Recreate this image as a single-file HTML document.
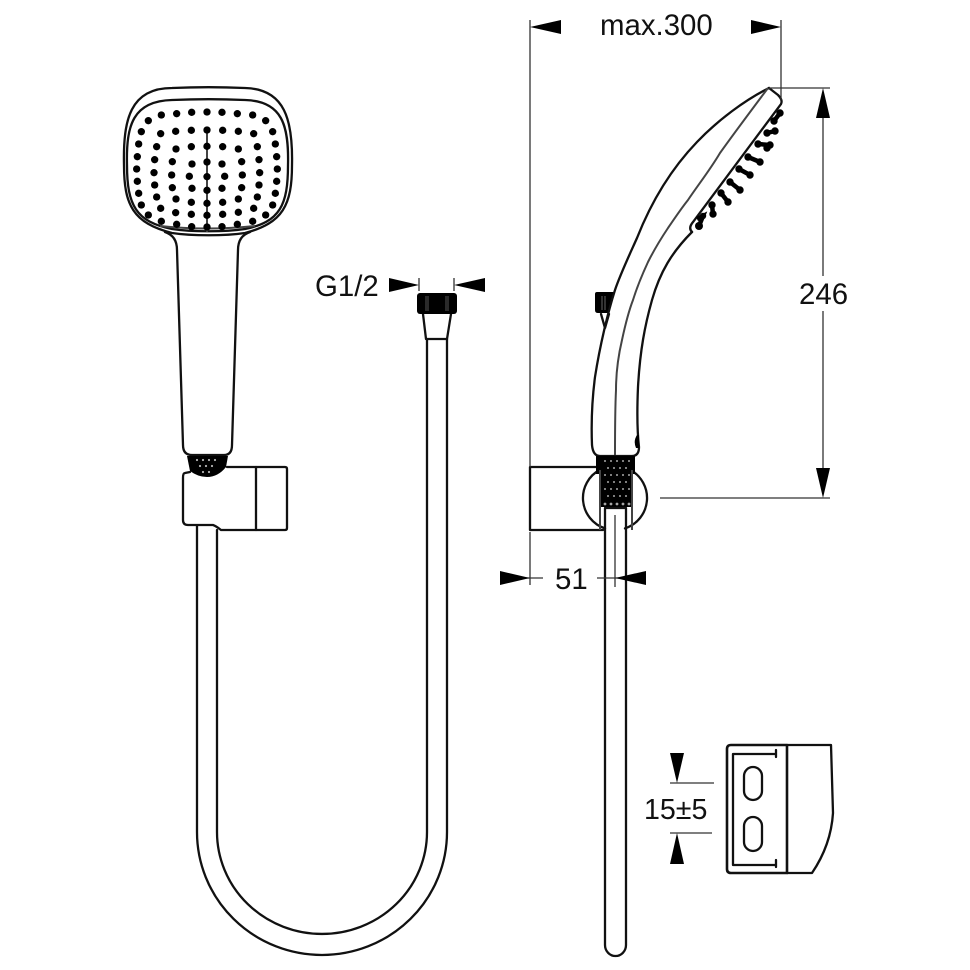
<!DOCTYPE html>
<html>
<head>
<meta charset="utf-8">
<style>
html,body{margin:0;padding:0;background:#fff;}
svg{display:block;filter:blur(.35px);}
text{font-family:"Liberation Sans",sans-serif;font-size:29.4px;fill:#111;}
.l{fill:none;stroke:#111;stroke-width:2.3;stroke-linejoin:round;stroke-linecap:round;}
.t{fill:none;stroke:#333;stroke-width:1.3;}
.g{fill:none;stroke:#444;stroke-width:2;}
.a{fill:#000;stroke:none;}
</style>
</head>
<body>
<svg width="970" height="970" viewBox="0 0 970 970" xmlns="http://www.w3.org/2000/svg">
<rect width="970" height="970" fill="#fff"/>

<!-- FRONT HEAD -->
<path class="l" d="M124 165C123 120 130 88 172 88C195 87 222 87 245 88C285 89 293 120 292 165C292 205 283 223 245 233C225 236 192 236 172 233C133 223 124 205 124 165Z"/>
<path class="l" d="M127 165C126 125 133 101 172 100C195 99 222 99 245 100C282 101 289 125 288 165C288 205 280 222 245 229C225 232 192 232 172 229C136 222 127 205 127 165Z"/>
<path class="g" d="M207 130V232M160 226Q207 231 255 226"/>
<g transform="translate(110,80) scale(.33333)" fill="#000">
<circle cx="115" cy="122" r="11"/><circle cx="154" cy="105" r="11"/><circle cx="200" cy="101" r="11"/><circle cx="245" cy="97" r="11"/><circle cx="291" cy="96" r="11"/><circle cx="336" cy="97" r="11"/><circle cx="382" cy="101" r="11"/><circle cx="428" cy="105" r="11"/><circle cx="467" cy="122" r="11"/>
<circle cx="94" cy="155" r="11"/><circle cx="152" cy="161" r="11"/><circle cx="197" cy="154" r="11"/><circle cx="244" cy="151" r="11"/><circle cx="291" cy="150" r="11"/><circle cx="338" cy="151" r="11"/><circle cx="385" cy="154" r="11"/><circle cx="431" cy="161" r="11"/><circle cx="488" cy="155" r="11"/>
<circle cx="86" cy="192" r="11"/><circle cx="140" cy="200" r="11"/><circle cx="198" cy="207" r="11"/><circle cx="244" cy="200" r="11"/><circle cx="291" cy="199" r="11"/><circle cx="338" cy="200" r="11"/><circle cx="385" cy="207" r="11"/><circle cx="442" cy="200" r="11"/><circle cx="496" cy="192" r="11"/>
<circle cx="82" cy="230" r="11"/><circle cx="134" cy="239" r="11"/><circle cx="187" cy="245" r="11"/><circle cx="246" cy="252" r="11"/><circle cx="291" cy="246" r="11"/><circle cx="336" cy="252" r="11"/><circle cx="395" cy="245" r="11"/><circle cx="447" cy="239" r="11"/><circle cx="500" cy="230" r="11"/>
<circle cx="80" cy="267" r="11"/><circle cx="132" cy="278" r="11"/><circle cx="185" cy="285" r="11"/><circle cx="238" cy="289" r="11"/><circle cx="291" cy="290" r="11"/><circle cx="344" cy="289" r="11"/><circle cx="397" cy="285" r="11"/><circle cx="449" cy="278" r="11"/><circle cx="502" cy="267" r="11"/>
<circle cx="82" cy="304" r="11"/><circle cx="134" cy="315" r="11"/><circle cx="187" cy="323" r="11"/><circle cx="246" cy="325" r="11"/><circle cx="291" cy="331" r="11"/><circle cx="336" cy="325" r="11"/><circle cx="395" cy="323" r="11"/><circle cx="447" cy="315" r="11"/><circle cx="500" cy="304" r="11"/>
<circle cx="86" cy="340" r="11"/><circle cx="140" cy="351" r="11"/><circle cx="198" cy="357" r="11"/><circle cx="244" cy="367" r="11"/><circle cx="291" cy="370" r="11"/><circle cx="338" cy="367" r="11"/><circle cx="385" cy="357" r="11"/><circle cx="442" cy="351" r="11"/><circle cx="496" cy="340" r="11"/>
<circle cx="94" cy="375" r="11"/><circle cx="152" cy="385" r="11"/><circle cx="197" cy="398" r="11"/><circle cx="244" cy="403" r="11"/><circle cx="291" cy="406" r="11"/><circle cx="338" cy="403" r="11"/><circle cx="385" cy="397" r="11"/><circle cx="431" cy="385" r="11"/><circle cx="488" cy="375" r="11"/>
<circle cx="115" cy="405" r="11"/><circle cx="154" cy="424" r="11"/><circle cx="200" cy="433" r="11"/><circle cx="245" cy="440" r="11"/><circle cx="291" cy="441" r="11"/><circle cx="336" cy="440" r="11"/><circle cx="382" cy="433" r="11"/><circle cx="428" cy="424" r="11"/><circle cx="467" cy="405" r="11"/>
</g>

<!-- FRONT HANDLE -->
<path class="l" d="M165 232Q177 236 177 250L183 445Q183 455 192 455H224Q232 455 232 445L238 250Q238 236 250 232"/>
<path d="M187 456H228L226 467Q218 477 207 477Q198 477 190 471Z" fill="#000"/>
<g fill="#fff" opacity=".7"><circle cx="197" cy="460" r="1.1"/><circle cx="203" cy="460" r="1.1"/><circle cx="209" cy="460" r="1.1"/><circle cx="215" cy="460" r="1.1"/><circle cx="200" cy="466" r="1.1"/><circle cx="206" cy="466" r="1.1"/><circle cx="212" cy="466" r="1.1"/><circle cx="203" cy="472" r="1.1"/><circle cx="209" cy="472" r="1.1"/></g>

<!-- FRONT BRACKET -->
<path class="l" d="M190 472L185 473Q183 473 183 478V520Q183 525 188 525H213Q216 526 221 530H285Q287 530 287 528V469Q287 467 285 467H227"/>
<path class="l" d="M256 467V530"/>

<!-- HOSE -->
<path class="l" d="M197 526V832A125 123 0 0 0 447 832V339"/>
<path class="l" d="M217 530V832A105 102 0 0 0 427 832V339"/>
<path class="l" d="M426 339H447M423 314L426 339M451 314L447 339"/>
<rect x="417" y="293" width="40" height="21" rx="3" fill="#000"/>
<path d="M426 296V311M428 296V311M446 296V311M448 296V311" stroke="#555" stroke-width="1"/>

<!-- G1/2 -->
<text x="315" y="296">G1/2</text>
<path class="a" d="M389 278V292L419 285Z"/>
<path class="a" d="M485 278V292L454 285Z"/>
<path class="t" d="M419 278V291M454 278V291"/>

<!-- SIDE VIEW BODY -->
<path d="M595 294Q595 292 597 292H615L608 313H598Q595 313 595 310Z" fill="#000"/>
<path d="M602 296V310M605 296V310" stroke="#666" stroke-width="1"/>
<path class="l" d="M601 314L605 328M609 314L605 328"/>
<path class="l" d="M769 88C745 100 718 120 697 142C672 168 652 200 637 238C628 258 620 275 615 290C608 312 600 345 595 377C592 400 591 420 592 445Q593 456 600 456H632Q639 456 639 447C637 430 637 410 638 387C640 350 645 325 652 300C660 272 672 252 692 232"/>
<path class="l" d="M769 88L778 95Q783 100 781 104L693 222Q688 228 692 232"/>
<path class="g" d="M768 88C750 112 735 132 720 153C710 170 698 185 688 200C680 210 675 218 668 228C660 240 654 250 648 262C642 275 637 287 633 300C628 313 625 326 622 340C618 357 616 373 616 390C615 410 615 430 615 455"/>
<path d="M637 435Q633 441 636 448H639V435Z" fill="#000"/>

<!-- SIDE HEAD NOZZLES -->
<g fill="#000">
<circle cx="780" cy="113" r="3.7"/><circle cx="774" cy="121" r="3.7"/><circle cx="775" cy="131" r="3.7"/><circle cx="767" cy="133" r="3.7"/><circle cx="770" cy="145" r="3.7"/><circle cx="758" cy="144" r="3.7"/><circle cx="767" cy="148" r="3.7"/><circle cx="760" cy="162" r="3.7"/><circle cx="748" cy="157" r="3.7"/><circle cx="750" cy="175" r="3.7"/><circle cx="739" cy="169" r="3.7"/><circle cx="740" cy="190" r="3.7"/><circle cx="730" cy="182" r="3.7"/><circle cx="728" cy="202" r="3.7"/><circle cx="721" cy="193" r="3.7"/><circle cx="713" cy="214" r="3.7"/><circle cx="712" cy="205" r="3.7"/><circle cx="699" cy="226" r="4"/><circle cx="703" cy="216" r="3.2"/>
</g>
<path d="M780 113L774 121M775 131L767 133M770 145L758 144M760 162L748 157M750 175L739 169M740 190L730 182M728 202L721 193M713 214L712 205M699 226L703 216L697 219" stroke="#000" stroke-width="4.5" fill="none"/>

<!-- SIDE BRACKET -->
<path class="l" d="M596 467H530V530H603"/>
<path class="l" d="M600 469.700A32 32 0 0 0 605 528.400M630 469.700A32 32 0 0 1 625 528.400"/>
<rect x="596" y="456" width="39" height="18" fill="#000"/>
<rect x="600" y="470" width="32" height="37" fill="#000"/>
<g fill="#fff" opacity=".65">
<circle cx="605" cy="461" r="1"/><circle cx="611" cy="461" r="1"/><circle cx="617" cy="461" r="1"/><circle cx="623" cy="461" r="1"/><circle cx="629" cy="461" r="1"/>
<circle cx="608" cy="468" r="1"/><circle cx="614" cy="468" r="1"/><circle cx="620" cy="468" r="1"/><circle cx="626" cy="468" r="1"/>
<circle cx="605" cy="475" r="1"/><circle cx="611" cy="475" r="1"/><circle cx="617" cy="475" r="1"/><circle cx="623" cy="475" r="1"/><circle cx="629" cy="475" r="1"/>
<circle cx="608" cy="482" r="1"/><circle cx="614" cy="482" r="1"/><circle cx="620" cy="482" r="1"/><circle cx="626" cy="482" r="1"/>
<circle cx="605" cy="489" r="1"/><circle cx="611" cy="489" r="1"/><circle cx="617" cy="489" r="1"/><circle cx="623" cy="489" r="1"/><circle cx="629" cy="489" r="1"/>
<circle cx="608" cy="496" r="1"/><circle cx="614" cy="496" r="1"/><circle cx="620" cy="496" r="1"/><circle cx="626" cy="496" r="1"/>
<circle cx="605" cy="504" r="1.4"/><circle cx="611" cy="504" r="1.4"/><circle cx="617" cy="504" r="1.4"/><circle cx="623" cy="504" r="1.4"/><circle cx="629" cy="504" r="1.4"/>
</g>
<path class="g" d="M600 470V530M632 470V530"/>

<!-- SIDE HOSE -->
<path class="l" d="M605 508H626M605 508V945A10.500 11 0 0 0 626 945V508"/>
<path class="t" d="M615 515V587"/>

<!-- DIM: max.300 -->
<text x="600" y="35">max.300</text>
<path class="t" d="M530 20V467M781 20V100M769 88H830"/>
<path class="a" d="M530 27L561 20V34Z"/>
<path class="a" d="M781 27L751 20V34Z"/>

<!-- DIM: 246 -->
<text x="799" y="304">246</text>
<path class="t" d="M823 118V276M823 311V468M660 498H830"/>
<path class="a" d="M823 88L816 118H830Z"/>
<path class="a" d="M823 498L816 468H830Z"/>

<!-- DIM: 51 -->
<text x="555" y="589">51</text>
<path class="t" d="M530 532V585M500 578H543M597 578H646"/>
<path class="a" d="M530 578L500 571V585Z"/>
<path class="a" d="M615 578L646 571V585Z"/>

<!-- WALL PLATE -->
<path class="l" style="stroke-width:2.6" d="M731 745H787V873H731Q727 873 727 869V749Q727 745 731 745Z"/>
<path class="l" d="M787 745H831Q832 780 833 813Q831 845 812 873H787"/>
<path class="l" d="M776 750V757M776 754H733V865H776M776 860V867"/>
<rect x="744" y="767" width="18" height="33" rx="9" class="l"/>
<rect x="744" y="817" width="18" height="34" rx="9" class="l"/>

<!-- DIM: 15±5 -->
<text x="644" y="819" style="font-size:28.600px">15±5</text>
<path class="t" d="M670 783H714M670 833H712"/>
<path class="a" d="M670 753H684L677 783Z"/>
<path class="a" d="M677 833L684 864H670Z"/>
</svg>
</body>
</html>
